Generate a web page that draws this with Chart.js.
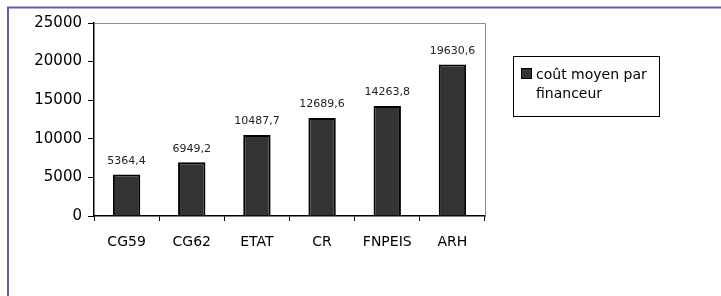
<!DOCTYPE html>
<html>
<head>
<meta charset="utf-8">
<script src="https://cdn.jsdelivr.net/npm/chart.js@4"></script>
<style>
  html, body { margin: 0; padding: 0; background: #fff; }
  #wrap { width: 721px; height: 296px; position: relative; }
</style>
</head>
<body>
<div id="wrap"><canvas id="c" width="721" height="296"></canvas></div>
<script>
const categories = ['CG59', 'CG62', 'ETAT', 'CR', 'FNPEIS', 'ARH']
const values = [5364.4, 6949.2, 10487.7, 12689.6, 14263.8, 19630.6]
const yTicks = [0, 5000, 10000, 15000, 20000, 25000]
const seriesName = 'coût moyen par financeur'

const FONT = '"DejaVu Sans", Verdana, sans-serif'

// outer frame (blue lines top + left) and grey plot border
const framePlugin = {
  id: 'frame',
  beforeDraw (chart) {
    const c = chart.ctx
    c.save()
    c.fillStyle = '#fff'
    c.fillRect(0, 0, chart.width, chart.height)
    c.strokeStyle = '#5f5fb0'
    c.lineWidth = 2
    c.beginPath()
    c.moveTo(8, 296)
    c.lineTo(8, 7.5)
    c.lineTo(721, 7.5)
    c.stroke()
    c.restore()
  },
  afterDraw (chart) {
    const a = chart.chartArea
    const c = chart.ctx
    c.save()
    c.strokeStyle = '#8c8c8c'
    c.lineWidth = 1
    c.beginPath()
    c.moveTo(a.left, a.top + 0.5)
    c.lineTo(a.right + 0.5, a.top + 0.5)
    c.lineTo(a.right + 0.5, a.bottom)
    c.stroke()
    c.restore()
  }
}

// value labels above bars, french decimal comma
const valueLabels = {
  id: 'valueLabels',
  afterDatasetsDraw (chart) {
    const c = chart.ctx
    const meta = chart.getDatasetMeta(0)
    c.save()
    c.font = '11px ' + FONT
    c.fillStyle = '#222'
    c.textAlign = 'center'
    c.textBaseline = 'bottom'
    meta.data.forEach((bar, i) => {
      c.fillText(String(values[i]).replace('.', ','), bar.x, bar.y - 8)
    })
    c.restore()
  }
}

// boxed legend on the right, text wrapped on two lines
const boxLegend = {
  id: 'boxLegend',
  afterDraw (chart) {
    const c = chart.ctx
    const x = 513, y = 56, w = 146, h = 60
    c.save()
    c.strokeStyle = '#000'
    c.lineWidth = 1
    c.strokeRect(x + 0.5, y + 0.5, w, h)
    c.fillStyle = '#333'
    c.fillRect(521, 68, 11, 11)
    c.strokeRect(521.5, 68.5, 10, 10)
    c.font = '14px ' + FONT
    c.fillStyle = '#000'
    c.textBaseline = 'middle'
    const words = seriesName.split(' ')
    c.fillText(words.slice(0, 3).join(' '), 536, 75)
    c.fillText(words.slice(3).join(' '), 536, 94)
    c.restore()
  }
}

new Chart(document.getElementById('c').getContext('2d'), {
  type: 'bar',
  data: {
    labels: categories,
    datasets: [{
      label: seriesName,
      data: values,
      backgroundColor: '#333333',
      borderColor: '#000',
      borderWidth: 2,
      barPercentage: 0.42,
      categoryPercentage: 1
    }]
  },
  options: {
    responsive: false,
    animation: false,
    devicePixelRatio: 1,
    layout: { padding: { left: 10, right: 236, top: 23, bottom: 40 } },
    plugins: {
      legend: { display: false },
      tooltip: { enabled: false },
      title: { display: false }
    },
    scales: {
      x: {
        afterFit (s) { s.height = 40 },
        border: { color: '#000', width: 1.5 },
        grid: { offset: true, drawOnChartArea: false, tickLength: 5, color: '#000' },
        ticks: { color: '#000', font: { family: FONT, size: 14 }, padding: 13, maxRotation: 0 }
      },
      y: {
        min: 0,
        max: 25000,
        afterFit (s) { s.width = 84 },
        afterBuildTicks (s) { s.ticks = yTicks.map(v => ({ value: v })) },
        border: { color: '#000', width: 1.5 },
        grid: { drawOnChartArea: false, tickLength: 6, color: '#000' },
        ticks: {
          color: '#000',
          font: { family: FONT, size: 15 },
          padding: 6,
          callback: v => String(v)
        }
      }
    }
  },
  plugins: [framePlugin, valueLabels, boxLegend]
})
</script>
</body>
</html>
